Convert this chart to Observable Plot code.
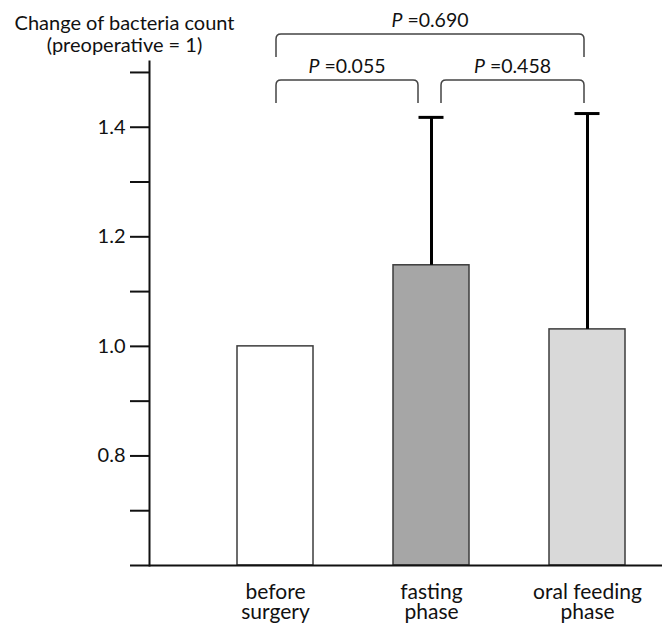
<!DOCTYPE html>
<html><head><meta charset="utf-8">
<script src="https://cdn.jsdelivr.net/npm/d3@7"></script>
<script src="https://cdn.jsdelivr.net/npm/@observablehq/plot@0.6"></script>
<style>body{margin:0;background:#fff;} svg{display:block}</style>
</head><body><div id="chart"></div>
<script>
const categories = ["before surgery", "fasting phase", "oral feeding phase"];
const categoryLabels = ["before\nsurgery", "fasting\nphase", "oral feeding\nphase"];
const means = [1.0, 1.148, 1.031];
const upperErrors = [null, 1.418, 1.425];
const barFills = ["#ffffff", "#a6a6a6", "#d9d9d9"];
const yDomain = [0.6, 1.52];
const yTicks = [0.6, 0.7, 0.8, 0.9, 1.0, 1.1, 1.2, 1.3, 1.4, 1.5];
const yLabeledTicks = [0.8, 1.0, 1.2, 1.4];
const yTitle = "Change of bacteria count\n(preoperative = 1)";
const compFrom = ["before surgery", "fasting phase", "before surgery"];
const compTo = ["fasting phase", "oral feeding phase", "oral feeding phase"];
const compP = ["0.055", "0.458", "0.690"];
const compLevel = [0, 0, 1];

const rows = categories.map((c, i) => ({category: c, label: categoryLabels[i], mean: means[i], upper: upperErrors[i], fill: barFills[i]}));
const errRows = rows.filter(d => d.upper != null);
const comparisons = compFrom.map((f, i) => ({from: f, to: compTo[i], p: compP[i], level: compLevel[i]}));

function brackets(index, scales, values, dimensions) {
  const x = scales.x;
  const bw = x.bandwidth ? x.bandwidth() : 0;
  const cx = c => x(c) + bw / 2;
  const mt = dimensions.marginTop;
  const g = d3.create("svg:g");
  for (const b of comparisons) {
    const xl = cx(b.from) + (b.from === "fasting phase" ? 10 : 1);
    const xr = cx(b.to) - (b.to === "fasting phase" ? 13 : 3);
    const yTop = mt + 19 - b.level * 46;
    const yLeg = yTop + 23;
    const r = 5;
    g.append("path")
      .attr("fill", "none").attr("stroke", "#444").attr("stroke-width", 1.5)
      .attr("d", `M${xl},${yLeg} L${xl},${yTop + r} Q${xl},${yTop} ${xl + r},${yTop} L${xr - r},${yTop} Q${xr},${yTop} ${xr},${yTop + r} L${xr},${yLeg}`);
    const t = g.append("text")
      .attr("x", (xl + xr) / 2).attr("y", yTop - 7)
      .attr("text-anchor", "middle").attr("font-size", 19.5).attr("fill", "#111")
      .attr("font-family", "Lato");
    t.append("tspan").attr("font-style", "italic").text("P");
    t.append("tspan").text(" =" + b.p);
  }
  return g.node();
}

const chart = Plot.plot({
  width: 662, height: 626,
  marginTop: 61, marginBottom: 61, marginLeft: 149, marginRight: 0,
  style: {fontFamily: "Lato", background: "#fff", color: "#111"},
  x: {domain: categories, range: [237, 625], paddingInner: 0.513, paddingOuter: 0, axis: null},
  y: {domain: yDomain, axis: null},
  color: {type: "identity"},
  marks: [
    Plot.barY(rows, {x: "category", y1: yDomain[0], y2: "mean", fill: "fill", stroke: "#3c3c3c", strokeWidth: 1.5}),
    Plot.ruleX(errRows, {x: "category", y1: "mean", y2: "upper", stroke: "#000", strokeWidth: 3}),
    Plot.tickY(errRows, {x: "category", y: "upper", stroke: "#000", strokeWidth: 3, insetLeft: 25.5, insetRight: 25.5}),
    Plot.axisY({ticks: yTicks, tickSize: 19, tickPadding: 5, tickFormat: d => yLabeledTicks.includes(d) ? d.toFixed(1) : "", fontSize: 20, stroke: "#111", strokeWidth: 2}),
    Plot.frame({anchor: "left", stroke: "#111", strokeWidth: 2}),
    Plot.ruleY([yDomain[0]], {stroke: "#111", strokeWidth: 2}),
    Plot.text(rows, {x: "category", y: yDomain[0], text: "label", lineAnchor: "top", dy: 19, fontSize: 21, lineHeight: 0.95, fill: "#111"}),
    Plot.text([yTitle], {frameAnchor: "top-left", text: d => d, dx: -25, dy: -47, lineAnchor: "top", textAnchor: "middle", fontSize: 20, lineHeight: 1.1, fill: "#111"}),
    brackets
  ]
});
document.getElementById("chart").append(chart);
</script>
</body></html>
